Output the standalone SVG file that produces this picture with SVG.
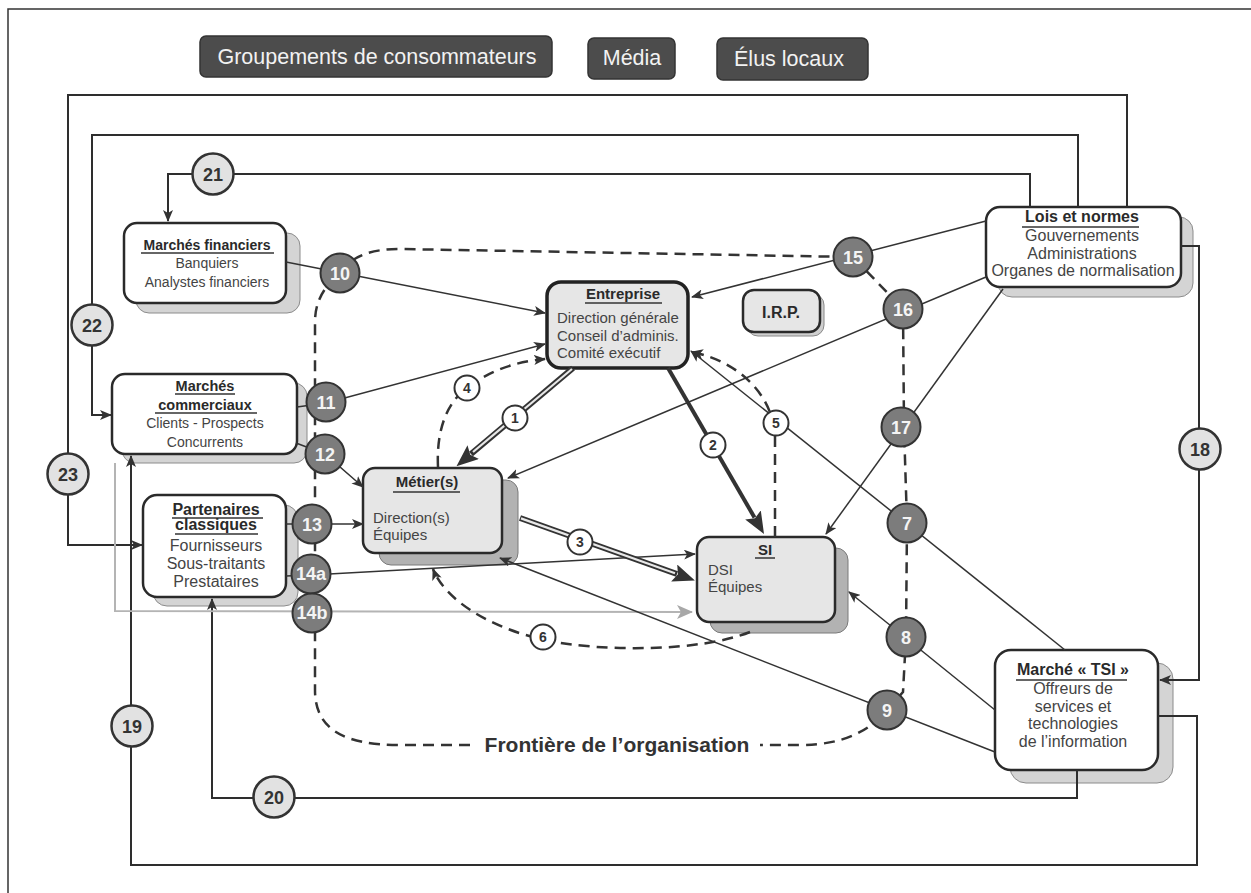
<svg xmlns="http://www.w3.org/2000/svg" width="1251" height="893" viewBox="0 0 1251 893">
  <style>
    text { font-family: "Liberation Sans", Arial, sans-serif; }
    .frame { fill: none; stroke: #2e2e2e; stroke-width: 2; }
    .conn { fill: none; stroke: #333; stroke-width: 1.5; }
    .dash { fill: none; stroke: #333; stroke-width: 2.5; stroke-dasharray: 11 7; }
    .gray { fill: none; stroke: #b4b4b4; stroke-width: 2; }
    .box { fill: #fff; stroke: #2a2a2a; stroke-width: 2.5; }
    .boxg { fill: #e6e6e6; stroke: #2a2a2a; stroke-width: 2.5; }
    .shadow { fill: #d4d4d4; stroke: #8c8c8c; stroke-width: 1; }
    .shadowd { fill: #b2b2b2; stroke: #7a7a7a; stroke-width: 1; }
    .tag { fill: #4c4c4c; stroke: #333; stroke-width: 1.5; }
    .tagtxt { fill: #f2f2f2; font-size: 21.5px; text-anchor: middle; }
    .cd { fill: #7c7c7c; stroke: #333; stroke-width: 2; }
    .cdt { fill: #f4f4f4; font-size: 18px; font-weight: bold; text-anchor: middle; }
    .cl { fill: #e2e2e2; stroke: #333; stroke-width: 2.5; }
    .clt { fill: #333; font-size: 18px; font-weight: bold; text-anchor: middle; }
    .cs { fill: #fff; stroke: #333; stroke-width: 2; }
    .cst { fill: #333; font-size: 14px; font-weight: bold; text-anchor: middle; }
    .hd { fill: #2a2a2a; font-weight: bold; text-anchor: middle; }
    .bd { fill: #444; }
    .ul { stroke: #333; stroke-width: 1.5; }
  </style>
  <defs>
    <marker id="ah" viewBox="0 0 12 10" refX="11" refY="5" markerWidth="12" markerHeight="10" markerUnits="userSpaceOnUse" orient="auto">
      <path d="M0,0 L12,5 L0,10 L3,5 z" fill="#333"/>
    </marker>
    <marker id="ahBig" viewBox="0 0 22 18" refX="3" refY="9" markerWidth="22" markerHeight="18" markerUnits="userSpaceOnUse" orient="auto">
      <path d="M0,0 L22,9 L0,18 L4,9 z" fill="#333"/>
    </marker>
    <marker id="ahGray" viewBox="0 0 16 14" refX="15" refY="7" markerWidth="16" markerHeight="14" markerUnits="userSpaceOnUse" orient="auto">
      <path d="M0,0 L16,7 L0,14 L4,7 z" fill="#a8a8a8"/>
    </marker>
  </defs>

  <rect x="0" y="0" width="1251" height="893" fill="#fff"/>
  <rect x="8" y="9" width="1300" height="1000" fill="none" stroke="#333" stroke-width="1.5"/>

  <!-- stakeholder tags along the top -->
  <g id="groupements">
    <rect class="tag" x="200" y="36" width="352" height="41" rx="6"/>
    <text class="tagtxt" x="377" y="64">Groupements de consommateurs</text>
  </g>
  <g id="media">
    <rect class="tag" x="588" y="38" width="87" height="41" rx="6"/>
    <text class="tagtxt" x="632" y="65">Média</text>
  </g>
  <g id="elus">
    <rect class="tag" x="717" y="38" width="151" height="42" rx="6"/>
    <text class="tagtxt" x="789" y="66">Élus locaux</text>
  </g>

  <!-- boxes -->
  <g id="marches-financiers">
    <rect class="shadow" x="136" y="233" width="164" height="80" rx="13"/>
    <rect class="box" x="124" y="223" width="162" height="80" rx="13"/>
    <text class="hd" x="207" y="250" font-size="14">Marchés financiers</text>
    <line class="ul" x1="141" y1="253" x2="274" y2="253"/>
    <text class="bd" x="207" y="268" font-size="14" text-anchor="middle">Banquiers</text>
    <text class="bd" x="207" y="287" font-size="14" text-anchor="middle">Analystes financiers</text>
  </g>

  <g id="marches-commerciaux">
    <rect class="shadow" x="122" y="383" width="185" height="80" rx="13"/>
    <rect class="box" x="112" y="374" width="185" height="80" rx="13"/>
    <text class="hd" x="205" y="391" font-size="14.5">Marchés</text>
    <line class="ul" x1="175" y1="394" x2="235" y2="394"/>
    <text class="hd" x="205" y="410" font-size="14.5">commerciaux</text>
    <line class="ul" x1="155" y1="413" x2="257" y2="413"/>
    <text class="bd" x="205" y="428" font-size="14" text-anchor="middle">Clients - Prospects</text>
    <text class="bd" x="205" y="447" font-size="14" text-anchor="middle">Concurrents</text>
  </g>

  <g id="partenaires">
    <rect class="shadow" x="153" y="505" width="145" height="101" rx="14"/>
    <rect class="box" x="143" y="495" width="143" height="102" rx="14"/>
    <text class="hd" x="216" y="515" font-size="16">Partenaires</text>
    <line class="ul" x1="172" y1="518" x2="263" y2="518"/>
    <text class="hd" x="216" y="530" font-size="16">classiques</text>
    <line class="ul" x1="175" y1="534" x2="258" y2="534"/>
    <text class="bd" x="216" y="551" font-size="16" text-anchor="middle">Fournisseurs</text>
    <text class="bd" x="216" y="569" font-size="16" text-anchor="middle">Sous-traitants</text>
    <text class="bd" x="216" y="587" font-size="16" text-anchor="middle">Prestataires</text>
  </g>

  <g id="entreprise">
    <rect x="547" y="282" width="141" height="86" rx="14" fill="#e6e6e6" stroke="#222" stroke-width="3.5"/>
    <text class="hd" x="623" y="299" font-size="15">Entreprise</text>
    <line class="ul" x1="585" y1="303" x2="662" y2="303"/>
    <text class="bd" x="557" y="323" font-size="15">Direction générale</text>
    <text class="bd" x="557" y="341" font-size="15">Conseil d’adminis.</text>
    <text class="bd" x="557" y="358" font-size="15">Comité exécutif</text>
  </g>

  <g id="irp">
    <rect x="747" y="294" width="77" height="42" rx="11" fill="#cfcfcf" stroke="#888" stroke-width="1"/>
    <rect class="boxg" x="743" y="290" width="77" height="42" rx="11" stroke-width="2"/>
    <text class="hd" x="781" y="318" font-size="16">I.R.P.</text>
  </g>

  <g id="metiers">
    <rect class="shadowd" x="379" y="480" width="139" height="85" rx="12"/>
    <rect class="boxg" x="363" y="468" width="139" height="85" rx="12"/>
    <text class="hd" x="427" y="487" font-size="15">Métier(s)</text>
    <line class="ul" x1="393" y1="492" x2="460" y2="492"/>
    <text class="bd" x="373" y="523" font-size="15">Direction(s)</text>
    <text class="bd" x="373" y="540" font-size="15">Équipes</text>
  </g>

  <g id="si">
    <rect class="shadowd" x="710" y="548" width="138" height="85" rx="12"/>
    <rect class="boxg" x="697" y="537" width="138" height="85" rx="12"/>
    <text class="hd" x="765" y="555" font-size="15">SI</text>
    <line class="ul" x1="755" y1="558" x2="775" y2="558"/>
    <text class="bd" x="708" y="575" font-size="15">DSI</text>
    <text class="bd" x="708" y="592" font-size="15">Équipes</text>
  </g>

  <g id="lois-normes">
    <rect class="shadow" x="998" y="217" width="195" height="80" rx="14"/>
    <rect class="box" x="986" y="207" width="195" height="80" rx="14"/>
    <text class="hd" x="1082" y="222" font-size="16">Lois et normes</text>
    <line class="ul" x1="1022" y1="227" x2="1139" y2="227"/>
    <text class="bd" x="1082" y="241" font-size="16" text-anchor="middle">Gouvernements</text>
    <text class="bd" x="1082" y="259" font-size="16" text-anchor="middle">Administrations</text>
    <text class="bd" x="1083" y="276" font-size="16" text-anchor="middle">Organes de normalisation</text>
  </g>

  <g id="marche-tsi">
    <rect class="shadow" x="1010" y="663" width="163" height="120" rx="16"/>
    <rect class="box" x="995" y="650" width="163" height="120" rx="16"/>
    <text class="hd" x="1073" y="675" font-size="16">Marché « TSI »</text>
    <line class="ul" x1="1016" y1="680" x2="1127" y2="680"/>
    <text class="bd" x="1073" y="694" font-size="16" text-anchor="middle">Offreurs de</text>
    <text class="bd" x="1073" y="712" font-size="16" text-anchor="middle">services et</text>
    <text class="bd" x="1073" y="729" font-size="16" text-anchor="middle">technologies</text>
    <text class="bd" x="1073" y="747" font-size="16" text-anchor="middle">de l’information</text>
  </g>

  <g id="connectors">
    <!-- organisation boundary -->
    <path class="dash" d="M340,273 C352,256 370,249 400,249 L853,257 L903,309 L904,427 L907,523 L906,637 L903,692 L887,710 C870,730 845,745 800,745 L760,745"/>
    <path class="dash" d="M470,745 L400,745 C345,745 315,730 315,690 L315,322 C315,300 325,286 340,273"/>

    <!-- outer loops from Lois et normes / Marché TSI -->
    <path class="frame" d="M1030,207 L1030,174 L168,174 L168,221" marker-end="url(#ah)"/>
    <path class="frame" d="M1078,207 L1078,135 L92,135 L92,415 L111,415" marker-end="url(#ah)"/>
    <path class="frame" d="M1127,207 L1127,95 L68,95 L68,545 L142,545" marker-end="url(#ah)"/>
    <path class="frame" d="M1181,246 L1199,246 L1199,680 L1160,680" marker-end="url(#ah)"/>
    <path class="frame" d="M1158,716 L1197,716 L1197,865 L131,865 L131,456" marker-end="url(#ah)"/>
    <path class="frame" d="M1077,770 L1077,798 L212,798 L212,599" marker-end="url(#ah)"/>

    <!-- light grey link -->
    <path class="gray" d="M115,463 L115,611 L692,612" marker-end="url(#ahGray)"/>

    <!-- external flows into the organisation -->
    <path class="conn" d="M286,262 L545,313" marker-end="url(#ah)"/>
    <path class="conn" d="M297,407 L326,403 L545,344" marker-end="url(#ah)"/>
    <path class="conn" d="M296,443 L325,454 L363,487" marker-end="url(#ah)"/>
    <path class="conn" d="M286,524 L363,524" marker-end="url(#ah)"/>
    <path class="conn" d="M286,576 L311,575 L695,554" marker-end="url(#ah)"/>
    <path class="conn" d="M986,221 L692,297" marker-end="url(#ah)"/>
    <path class="conn" d="M986,277 L508,478" marker-end="url(#ah)"/>
    <path class="conn" d="M1003,289 L826,534" marker-end="url(#ah)"/>
    <path class="conn" d="M1065,650 L691,351" marker-end="url(#ah)"/>
    <path class="conn" d="M995,710 L849,592" marker-end="url(#ah)"/>
    <path class="conn" d="M995,752 L500,558" marker-end="url(#ah)"/>

    <!-- internal flows -->
    <path d="M573,368 L471,454" stroke="#333" stroke-width="6" fill="none" marker-end="url(#ahBig)"/>
    <path d="M572,369 L473,452" stroke="#e8e8e8" stroke-width="2.2" fill="none"/>
    <path d="M668,368 L754.5,517.5" stroke="#333" stroke-width="4" fill="none" marker-end="url(#ahBig)"/>
    <path d="M520,518 L677,574" stroke="#333" stroke-width="6" fill="none" marker-end="url(#ahBig)"/>
    <path d="M521,518.4 L675,573.3" stroke="#e8e8e8" stroke-width="2.2" fill="none"/>
    <path class="dash" d="M438,467 C436,425 450,400 467,388 C485,374 510,362 545,359" marker-end="url(#ah)"/>
    <path class="dash" d="M775,537 L775,435 C772,395 740,362 692,352" marker-end="url(#ah)"/>
    <path class="dash" d="M750,632 C700,652 600,652 545,640 C490,628 445,600 433,569" marker-end="url(#ah)"/>
  </g>

  <text x="617" y="752" font-size="21" font-weight="bold" fill="#333" text-anchor="middle">Frontière de l’organisation</text>

  <!-- numbered markers on the external flows -->
  <g id="n10"><circle class="cd" cx="340" cy="273" r="19.5"/><text class="cdt" x="340" y="279.5">10</text></g>
  <g id="n11"><circle class="cd" cx="326" cy="402" r="19.5"/><text class="cdt" x="326" y="408.5">11</text></g>
  <g id="n12"><circle class="cd" cx="325" cy="454" r="19.5"/><text class="cdt" x="325" y="460.5">12</text></g>
  <g id="n13"><circle class="cd" cx="312" cy="524" r="19.5"/><text class="cdt" x="312" y="530.5">13</text></g>
  <g id="n14a"><circle class="cd" cx="311" cy="574" r="19.5"/><text class="cdt" x="311" y="580" font-size="16">14a</text></g>
  <g id="n14b"><circle class="cd" cx="312" cy="613" r="19.5"/><text class="cdt" x="312" y="619" font-size="16">14b</text></g>
  <g id="n15"><circle class="cd" cx="853" cy="257" r="19.5"/><text class="cdt" x="853" y="263.5">15</text></g>
  <g id="n16"><circle class="cd" cx="903" cy="309" r="19.5"/><text class="cdt" x="903" y="315.5">16</text></g>
  <g id="n17"><circle class="cd" cx="901" cy="427" r="19.5"/><text class="cdt" x="901" y="433.5">17</text></g>
  <g id="n7"><circle class="cd" cx="907" cy="523" r="19.5"/><text class="cdt" x="907" y="529.5">7</text></g>
  <g id="n8"><circle class="cd" cx="906" cy="637" r="19.5"/><text class="cdt" x="906" y="643.5">8</text></g>
  <g id="n9"><circle class="cd" cx="887" cy="710" r="19.5"/><text class="cdt" x="887" y="716.5">9</text></g>

  <!-- numbered markers on the outer loops -->
  <g id="n18"><circle class="cl" cx="1200" cy="449" r="20.5"/><text class="clt" x="1200" y="455.5">18</text></g>
  <g id="n19"><circle class="cl" cx="132" cy="726" r="20.5"/><text class="clt" x="132" y="732.5">19</text></g>
  <g id="n20"><circle class="cl" cx="274" cy="797" r="20.5"/><text class="clt" x="274" y="803.5">20</text></g>
  <g id="n21"><circle class="cl" cx="213" cy="174" r="20.5"/><text class="clt" x="213" y="180.5">21</text></g>
  <g id="n22"><circle class="cl" cx="92" cy="325" r="20.5"/><text class="clt" x="92" y="331.5">22</text></g>
  <g id="n23"><circle class="cl" cx="68" cy="474" r="20.5"/><text class="clt" x="68" y="480.5">23</text></g>

  <!-- numbered markers on the internal flows -->
  <g id="n1"><circle class="cs" cx="515" cy="418" r="12.5"/><text class="cst" x="515" y="423">1</text></g>
  <g id="n2"><circle class="cs" cx="713" cy="445" r="12.5"/><text class="cst" x="713" y="450">2</text></g>
  <g id="n3"><circle class="cs" cx="580" cy="542" r="12.5"/><text class="cst" x="580" y="547">3</text></g>
  <g id="n4"><circle class="cs" cx="467" cy="388" r="12.5"/><text class="cst" x="467" y="393">4</text></g>
  <g id="n5"><circle class="cs" cx="776" cy="423" r="12.5"/><text class="cst" x="776" y="428">5</text></g>
  <g id="n6"><circle class="cs" cx="543" cy="637" r="12.5"/><text class="cst" x="543" y="642">6</text></g>
</svg>
